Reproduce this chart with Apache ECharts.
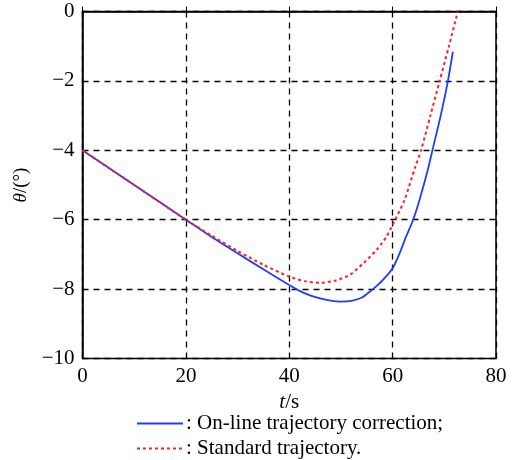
<!DOCTYPE html>
<html>
<head>
<meta charset="utf-8">
<script src="https://cdn.jsdelivr.net/npm/echarts@6/dist/echarts.min.js"></script>
<style>html,body{margin:0;padding:0;background:#fff;}#c{width:516px;height:460px;}</style>
</head>
<body>
<div id="c"></div>
<script>
// Data
var onlineT = [0, 10, 20, 25, 30, 35, 40, 42, 44, 46, 48, 50, 52, 54, 55, 56.2, 58.1, 60, 61.35, 62.6, 63.9, 65.2, 66.8, 67.7, 69.3, 70.7, 71.65];
var onlineV = [-4, -5, -6, -6.5, -6.97, -7.43, -7.88, -8.05, -8.18, -8.27, -8.33, -8.36, -8.34, -8.25, -8.14, -8.0, -7.74, -7.4, -6.97, -6.49, -6.03, -5.43, -4.57, -4.0, -3.0, -2.0, -1.16];
var standardT = [0, 10, 20, 25, 30, 35, 40, 43, 46, 49, 51.7, 54.3, 56.9, 58.8, 60.4, 62.3, 64.4, 65.5, 67.3, 69.1, 70.9, 72.6];
var standardV = [-4, -5, -6, -6.46, -6.9, -7.3, -7.64, -7.77, -7.82, -7.75, -7.59, -7.26, -6.87, -6.49, -6.03, -5.43, -4.47, -4.0, -3.0, -2.0, -1.0, 0];
var seriesNames = ['On-line trajectory correction', 'Standard trajectory'];
var legendTexts = [': On-line trajectory correction;', ': Standard trajectory.'];
var xTicks = [0, 20, 40, 60, 80];
var yTicks = [-10, -8, -6, -4, -2, 0];

function pairs(t, v) { return t.map(function (x, i) { return [x, v[i]]; }); }

var font = 'Liberation Serif';
var blue = '#1f3dff', red = '#ff2020';
var chart = echarts.init(document.getElementById('c'), null, {renderer: 'canvas'});
chart.setOption({
  animation: false,
  backgroundColor: '#fff',
  grid: {left: 82.5, right: 20, top: 11.5, bottom: 101.5, show: true, borderColor: '#000', borderWidth: 1.5, backgroundColor: 'transparent'},
  xAxis: {
    type: 'value', min: xTicks[0], max: xTicks[xTicks.length - 1], interval: 20,
    axisLine: {show: true, lineStyle: {color: '#000', width: 1.5}},
    axisTick: {show: true, inside: true, length: 5, lineStyle: {color: '#000'}},
    splitLine: {show: true, lineStyle: {color: '#000', type: [6, 5], width: 1.3}},
    axisLabel: {fontFamily: font, fontSize: 21, color: '#000', margin: 7},
    name: '{i|t}/s', nameLocation: 'middle', nameGap: 33,
    nameTextStyle: {fontFamily: font, fontSize: 21, color: '#000', rich: {i: {fontFamily: font, fontStyle: 'italic', fontSize: 21, color: '#000'}}}
  },
  yAxis: {
    type: 'value', min: yTicks[0], max: yTicks[yTicks.length - 1], interval: 2,
    axisLine: {show: true, lineStyle: {color: '#000', width: 1.5}},
    axisTick: {show: true, inside: true, length: 5, lineStyle: {color: '#000'}},
    splitLine: {show: true, lineStyle: {color: '#000', type: [6, 5], width: 1.3}},
    axisLabel: {fontFamily: font, fontSize: 21, color: '#000', margin: 8, formatter: function (v) { return String(v).replace('-', '\u2212'); }},
    name: '{i|\u03b8}/(\u00b0)', nameLocation: 'middle', nameGap: 50, nameRotate: 90,
    nameTextStyle: {fontFamily: font, fontSize: 19, color: '#000', rich: {i: {fontFamily: font, fontStyle: 'italic', fontSize: 19, color: '#000'}}}
  },
  graphic: [
    {type: 'line', shape: {x1: 137, y1: 423.5, x2: 183, y2: 423.5}, style: {stroke: blue, lineWidth: 1.8}},
    {type: 'text', left: 186, top: 412.5, style: {text: legendTexts[0], fontFamily: font, fontSize: 21, fill: '#000'}},
    {type: 'line', shape: {x1: 137, y1: 448.5, x2: 183, y2: 448.5}, style: {stroke: red, lineWidth: 2, lineDash: [3, 3]}},
    {type: 'text', left: 186, top: 437.5, style: {text: legendTexts[1], fontFamily: font, fontSize: 21, fill: '#000'}}
  ],
  series: [
    {name: seriesNames[0], type: 'line', data: pairs(onlineT, onlineV), showSymbol: false, smooth: 0.25,
     lineStyle: {color: blue, width: 1.8}, itemStyle: {color: blue}, z: 3},
    {name: seriesNames[1], type: 'line', data: pairs(standardT, standardV), showSymbol: false, smooth: 0.25,
     lineStyle: {color: red, width: 2, type: [3, 3]}, itemStyle: {color: red}, z: 4}
  ]
});
</script>
</body>
</html>
